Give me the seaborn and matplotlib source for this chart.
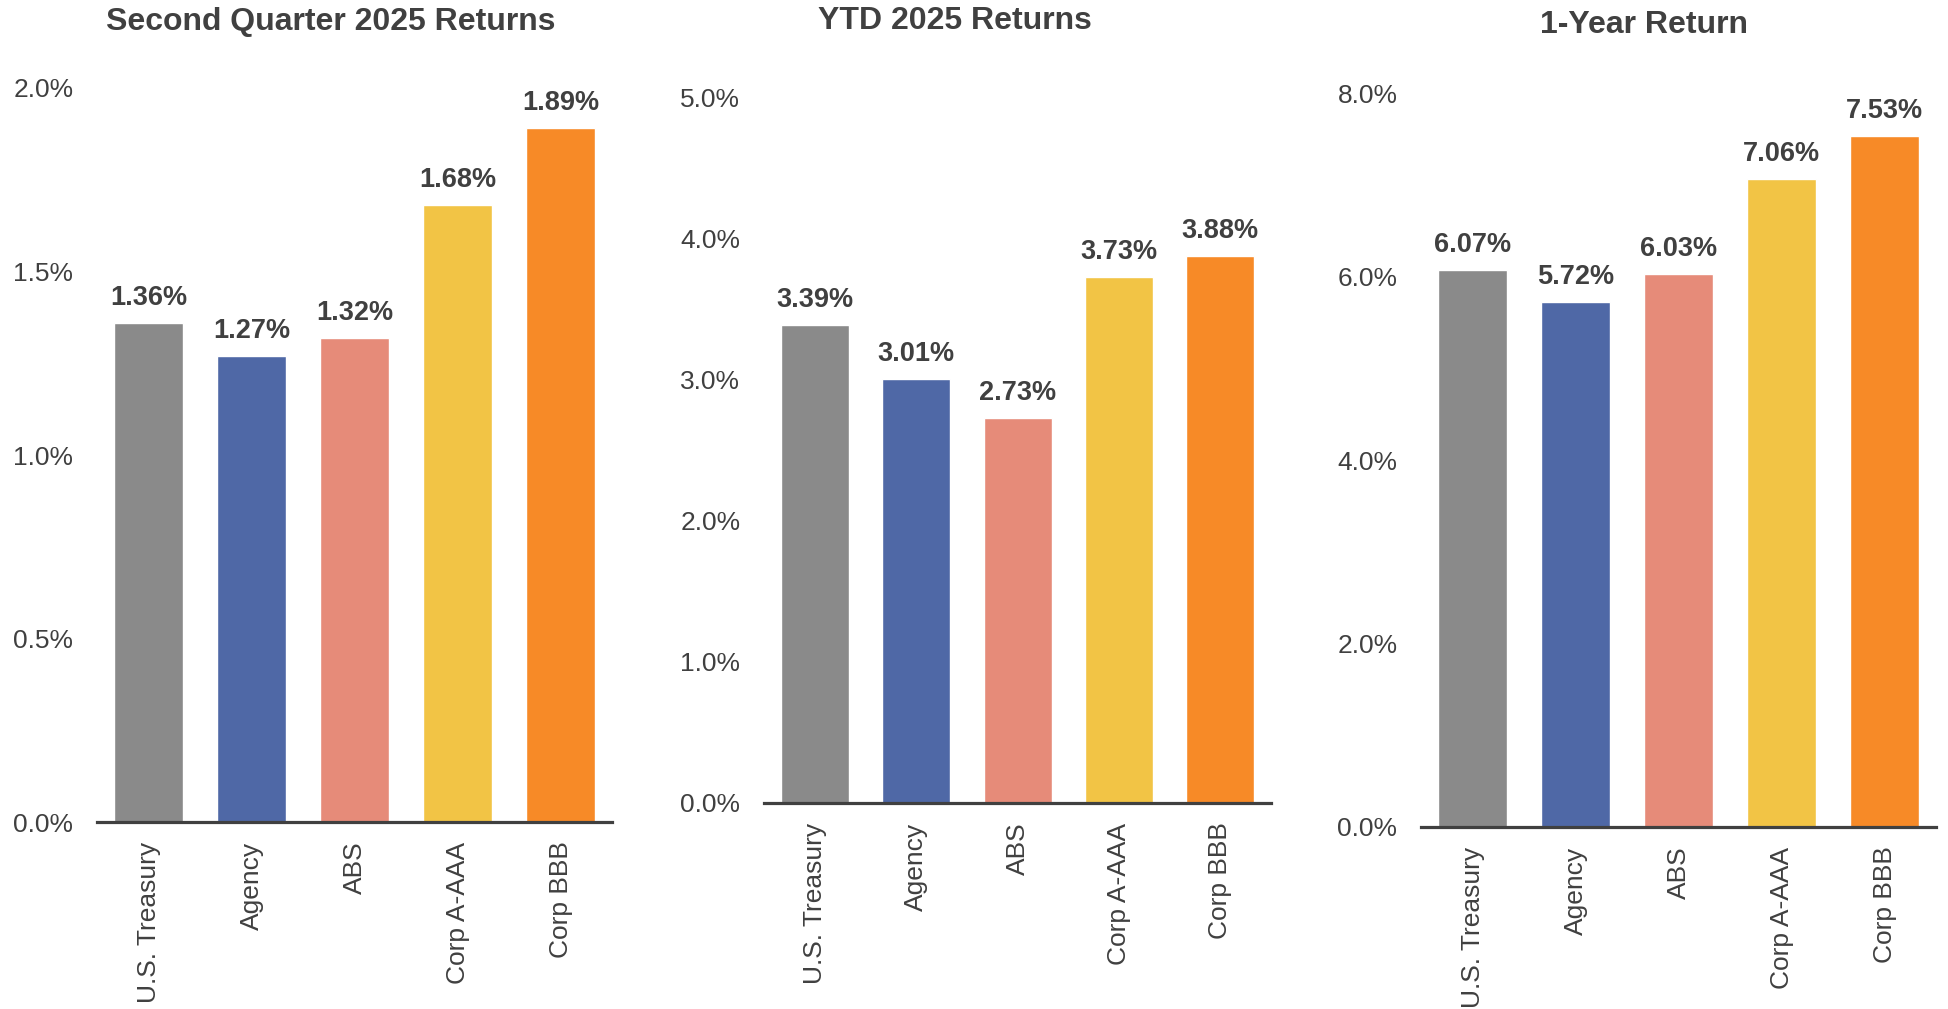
import pandas as pd
import matplotlib.pyplot as plt
import seaborn as sns

# Data
sectors = ["U.S. Treasury", "Agency", "ABS", "Corp A-AAA", "Corp BBB"]
q2_returns = [1.36, 1.27, 1.32, 1.68, 1.89]
ytd_returns = [3.39, 3.01, 2.73, 3.73, 3.88]
one_year_returns = [6.07, 5.72, 6.03, 7.06, 7.53]

titles = ["Second Quarter 2025 Returns", "YTD 2025 Returns", "1-Year Return"]
y_ticks = [[0.0, 0.5, 1.0, 1.5, 2.0],
           [0.0, 1.0, 2.0, 3.0, 4.0, 5.0],
           [0.0, 2.0, 4.0, 6.0, 8.0]]

colors = ["#8a8a8a", "#4f68a6", "#e68b79", "#f2c445", "#f78a27"]
text_color = "#404040"

sns.set_theme(style="white")
plt.rcParams['font.family'] = ['Liberation Sans', 'DejaVu Sans']

fig = plt.figure(figsize=(19.48, 10.09), dpi=100)

# axes boxes in figure fractions [left, bottom, width, height]
boxes = [[0.0498, 0.1853, 0.2644, 0.7275],
         [0.3922, 0.2042, 0.2603, 0.6987],
         [0.7295, 0.1804, 0.2644, 0.7274]]
title_pos = [(331, 22), (955, 21), (1644, 25)]

series = [q2_returns, ytd_returns, one_year_returns]

for i, values in enumerate(series):
    ax = fig.add_axes(boxes[i])
    df = pd.DataFrame({"Sector": sectors, "Return": values})
    sns.barplot(data=df, x="Sector", y="Return", hue="Sector", palette=colors,
                width=0.67, legend=False, ax=ax, saturation=1)

    ax.set_xlim(-0.5, len(sectors) - 0.5)
    ax.set_ylim(0, y_ticks[i][-1])
    ax.set_yticks(y_ticks[i])
    ax.set_yticklabels([f"{t:.1f}%" for t in y_ticks[i]])
    ax.set_xlabel("")
    ax.set_ylabel("")

    for side in ["top", "right", "left"]:
        ax.spines[side].set_visible(False)
    ax.spines["bottom"].set_linewidth(2.3)
    ax.spines["bottom"].set_color(text_color)
    ax.spines["bottom"].set_zorder(5)

    ax.tick_params(axis="y", length=0, pad=17, labelsize=19, labelcolor=text_color)
    ax.tick_params(axis="x", length=0, pad=14, labelsize=19, labelcolor=text_color,
                   labelrotation=90)

    # value labels above the bars
    for container in ax.containers:
        for bar in container:
            h = bar.get_height()
            ax.annotate(f"{h:.2f}%", (bar.get_x() + bar.get_width() / 2, h),
                        xytext=(0, 18), textcoords="offset points",
                        ha="center", va="center", fontsize=19.5,
                        fontweight="bold", color=text_color)

    x, y = title_pos[i]
    fig.text(x / 1948, 1 - y / 1009, titles[i], ha="center", va="center",
             fontsize=23, fontweight="bold", color=text_color)

plt.savefig("out.png", dpi=100)
